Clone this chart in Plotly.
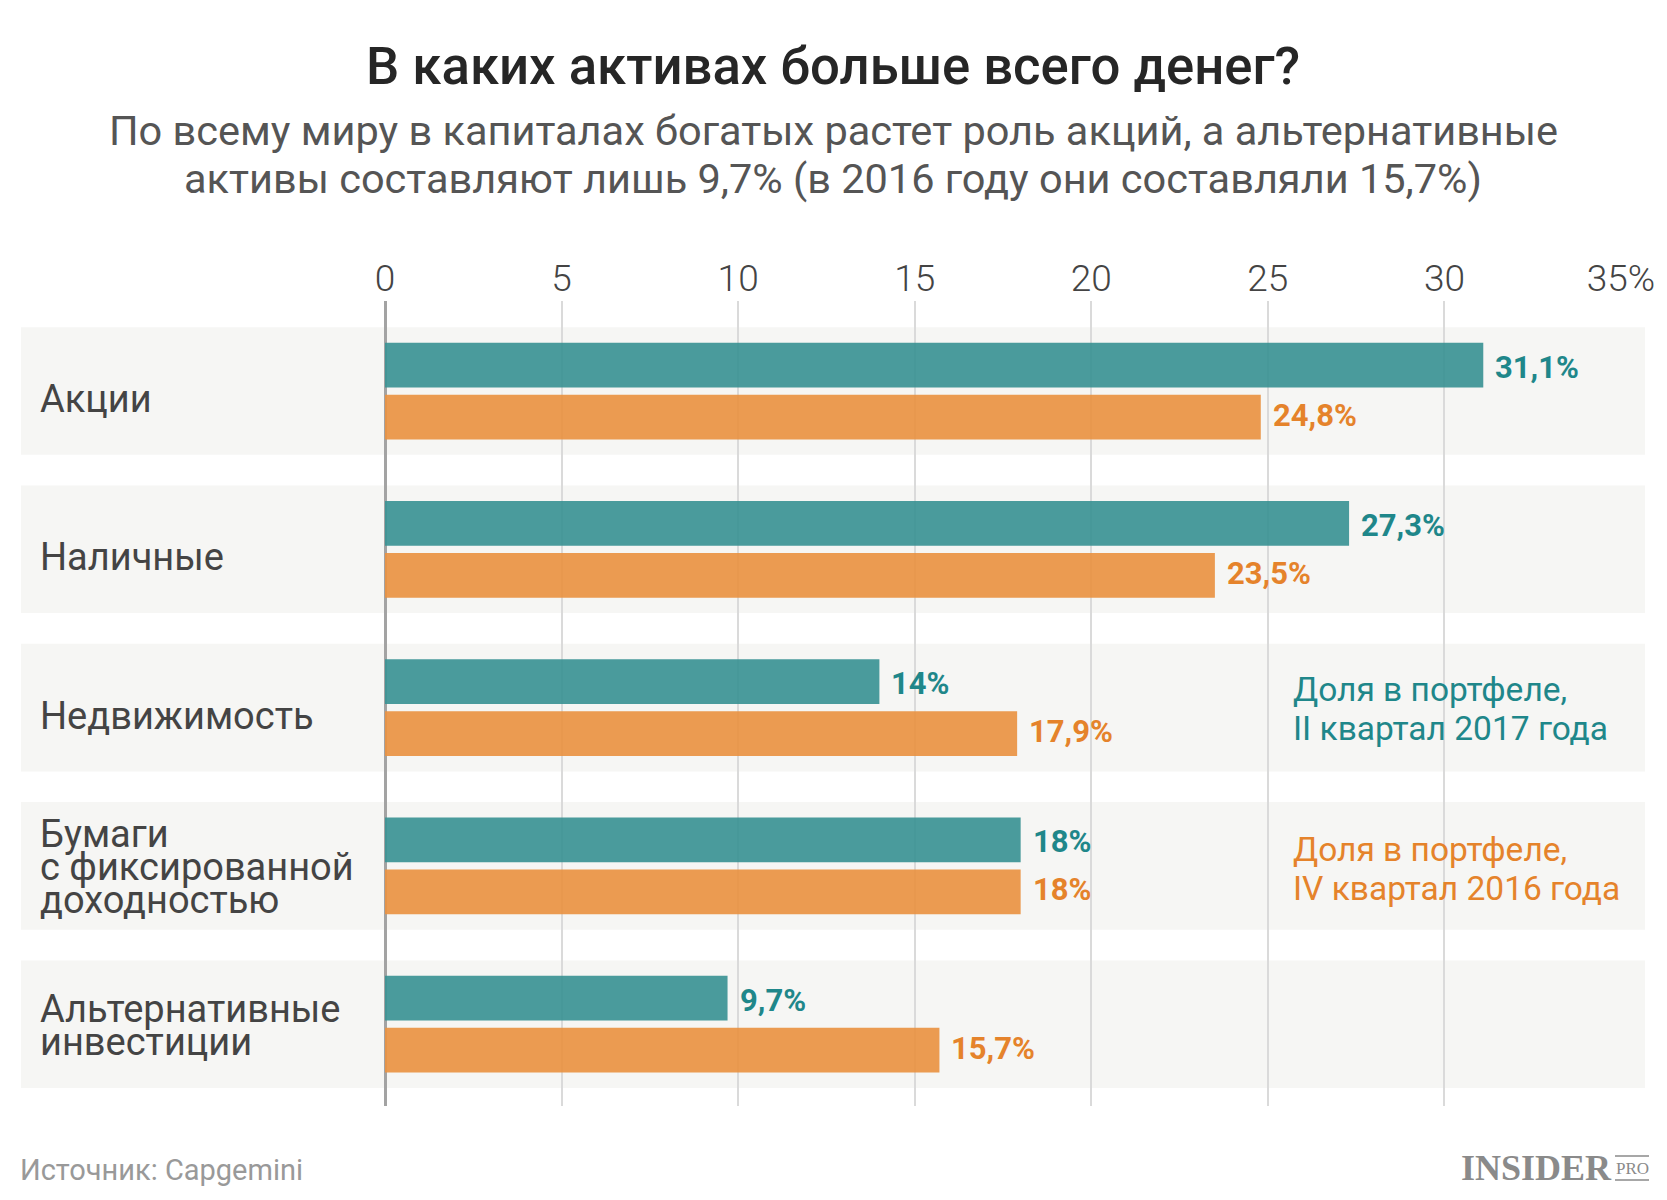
import plotly.graph_objects as go

# ---------------- data ----------------
categories = ["Акции", "Наличные", "Недвижимость",
              "Бумаги\nс фиксированной\nдоходностью",
              "Альтернативные\nинвестиции"]
share_2017q2 = [31.1, 27.3, 14, 18, 9.7]
share_2016q4 = [24.8, 23.5, 17.9, 18, 15.7]
series_names = ["Доля в портфеле, II квартал 2017 года",
                "Доля в портфеле, IV квартал 2016 года"]
legend_lines_2017 = ["Доля в портфеле,", "II квартал 2017 года"]
legend_lines_2016 = ["Доля в портфеле,", "IV квартал 2016 года"]
tick_vals = [0, 5, 10, 15, 20, 25, 30, 35]
tick_text = ["0", "5", "10", "15", "20", "25", "30", "35%"]
title = "В каких активах больше всего денег?"
subtitle_lines = ["По всему миру в капиталах богатых растет роль акций, а альтернативные",
                  "активы составляют лишь 9,7% (в 2016 году они составляли 15,7%)"]
source = "Источник: Capgemini"

# ---------------- style ----------------
O = 8                      # page body margin offset
W, H = 1667 - O, 1200 - 2 * O
L, R, T, B = 385 - O, 1621 - O, 301 - O, 1106 - O
TEAL_BAR = "rgba(59,146,148,0.92)"
ORANGE_BAR = "rgba(233,147,66,0.92)"
TEAL_TXT = "#1f878a"
ORANGE_TXT = "#e5832b"
FONT = "Roboto"


def px(x):  # page x -> paper
    return (x - O - L) / (R - L)


def py(y):  # page y -> paper
    return (B - (y - O)) / (B - T)


def fmt(v):
    return f"{v:g}".replace(".", ",") + "%"


fig = go.Figure()
fig.add_trace(go.Bar(y=categories, x=share_2017q2, orientation="h",
                     name=series_names[0], marker=dict(color=TEAL_BAR, line=dict(width=0)),
                     hoverinfo="skip"))
fig.add_trace(go.Bar(y=categories, x=share_2016q4, orientation="h",
                     name=series_names[1], marker=dict(color=ORANGE_BAR, line=dict(width=0)),
                     hoverinfo="skip"))

shapes = []
annotations = []

# band backgrounds
for i, c in enumerate(categories):
    shapes.append(dict(type="rect", xref="paper", yref="y",
                       x0=px(21), x1=px(1645), y0=i - 0.403, y1=i + 0.403,
                       fillcolor="#f6f6f4", line=dict(width=0), layer="below"))

# category labels (one annotation per line for tight line spacing)
for i, c in enumerate(categories):
    lines = c.split("\n")
    n = len(lines)
    for k, ln in enumerate(lines):
        shift = ((n - 1) / 2 - k) * 33 - (8 if n == 1 else 1)
        annotations.append(dict(x=px(38), xref="paper", y=c, yref="y",
                                text=ln, showarrow=False, xanchor="left", yanchor="middle",
                                yshift=shift,
                                font=dict(family=FONT, size=38, color="#444444")))

# value labels
for c, v in zip(categories, share_2017q2):
    annotations.append(dict(x=v, y=c, xref="x", yref="y", text=fmt(v), showarrow=False,
                            xanchor="left", yanchor="middle", xshift=10, yshift=24,
                            font=dict(family=FONT, size=31, color=TEAL_TXT, weight="bold")))
for c, v in zip(categories, share_2016q4):
    annotations.append(dict(x=v, y=c, xref="x", yref="y", text=fmt(v), showarrow=False,
                            xanchor="left", yanchor="middle", xshift=10, yshift=-24,
                            font=dict(family=FONT, size=31, color=ORANGE_TXT, weight="bold")))

# legend texts
for k, ln in enumerate(legend_lines_2017):
    annotations.append(dict(x=px(1291), y=py(689 + k * 39.5), xref="paper", yref="paper",
                            text=ln, showarrow=False, xanchor="left", yanchor="middle",
                            font=dict(family=FONT, size=33.5, color=TEAL_TXT)))
for k, ln in enumerate(legend_lines_2016):
    annotations.append(dict(x=px(1291), y=py(849 + k * 39.5), xref="paper", yref="paper",
                            text=ln, showarrow=False, xanchor="left", yanchor="middle",
                            font=dict(family=FONT, size=33.5, color=ORANGE_TXT)))

# title and subtitle
annotations.append(dict(x=px(833), y=py(66), xref="paper", yref="paper", text=title,
                        showarrow=False, xanchor="center", yanchor="middle",
                        font=dict(family=FONT, size=52.7, color="#262626", weight=500)))
for k, ln in enumerate(subtitle_lines):
    annotations.append(dict(x=px(833), y=py(130 + k * 49), xref="paper", yref="paper", text=ln,
                            showarrow=False, xanchor="center", yanchor="middle",
                            font=dict(family=FONT, size=41.5, color="#555555")))

# footer
annotations.append(dict(x=px(18), y=py(1170), xref="paper", yref="paper", text=source,
                        showarrow=False, xanchor="left", yanchor="middle",
                        font=dict(family=FONT, size=29, color="#999999")))
annotations.append(dict(x=px(1614), y=py(1168), xref="paper", yref="paper", text="INSIDER",
                        showarrow=False, xanchor="right", yanchor="middle",
                        font=dict(family="Liberation Serif", size=36, color="#8a8a8a", weight="bold")))
annotations.append(dict(x=px(1632), y=py(1168), xref="paper", yref="paper", text="PRO",
                        showarrow=False, xanchor="center", yanchor="middle",
                        font=dict(family="Liberation Serif", size=17, color="#8a8a8a")))
for yy in (1156, 1180):
    shapes.append(dict(type="line", xref="paper", yref="paper", x0=px(1615), x1=px(1649),
                       y0=py(yy), y1=py(yy), line=dict(color="#8a8a8a", width=1.5)))

fig.update_layout(
    width=W, height=H,
    margin=dict(l=L, r=W - R, t=T, b=H - B, pad=0),
    paper_bgcolor="white", plot_bgcolor="rgba(0,0,0,0)",
    barmode="group", bargap=0.343, bargroupgap=0.14,
    showlegend=False,
    shapes=shapes, annotations=annotations,
    xaxis=dict(range=[0, 35], side="top", tickvals=tick_vals, ticktext=tick_text,
               showgrid=True, gridcolor="#dadada", gridwidth=1.5,
               zeroline=True, zerolinecolor="#a3a3a3", zerolinewidth=2.5,
               showline=False, ticks="", ticklabelstandoff=2,
               tickfont=dict(family=FONT, size=37, color="#444444", weight=300),
               fixedrange=True),
    yaxis=dict(range=[4.517, -0.569], showticklabels=False, showgrid=False,
               zeroline=False, showline=False, ticks="", fixedrange=True),
)

fig.write_html("out.html")
